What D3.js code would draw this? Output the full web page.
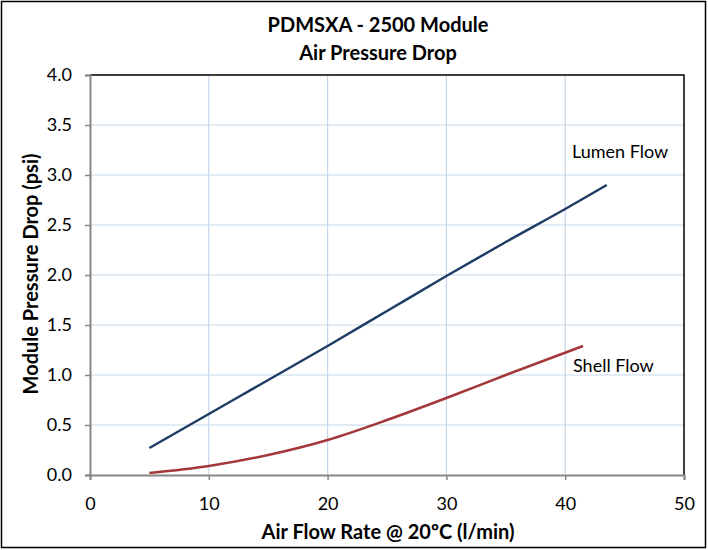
<!DOCTYPE html>
<html><head><meta charset="utf-8">
<script src="https://cdn.jsdelivr.net/npm/d3@7"></script>
<style>body{margin:0;background:#fff}svg{display:block}text{font-family:Lato,"Open Sans",sans-serif}</style>
</head><body>
<script>
const xTicks = [0,10,20,30,40,50];
const yTicks = [0,0.5,1.0,1.5,2.0,2.5,3.0,3.5,4.0];
const lumenX = [5,10,15,20,25,30,35,40,43.5];
const lumenY = [0.27,0.61,0.95,1.29,1.64,1.99,2.33,2.66,2.9];
const shellX = [5,10,15,20,25,30,35,41.5];
const shellY = [0.02,0.09,0.2,0.35,0.55,0.77,1.0,1.29];
const titleLines = ["PDMSXA - 2500 Module","Air Pressure Drop"];
const xTitle = "Air Flow Rate @ 20ºC (l/min)";
const yTitle = "Module Pressure Drop (psi)";
const seriesNames = ["Lumen Flow","Shell Flow"];

const W=708,H=550;
const m={l:90,r:24,t:75,b:75};
const svg=d3.select("body").append("svg").attr("width",W).attr("height",H);
svg.append("rect").attr("x",1.5).attr("y",1.5).attr("width",W-4).attr("height",H-4).attr("fill","#fff").attr("stroke","#000").attr("stroke-width",1.5);

const x=d3.scaleLinear().domain([0,50]).range([m.l,W-m.r]);
const y=d3.scaleLinear().domain([0,4]).range([H-m.b,m.t]);

const g=svg.append("g");
g.selectAll(".vg").data(xTicks.slice(1,-1)).join("line").attr("x1",d=>x(d)).attr("x2",d=>x(d)).attr("y1",y(0)).attr("y2",y(4)).attr("stroke","#c5d5ea").attr("stroke-width",1.2);
g.selectAll(".hg").data(yTicks.slice(1,-1)).join("line").attr("x1",x(0)).attr("x2",x(50)).attr("y1",d=>y(d)).attr("y2",d=>y(d)).attr("stroke","#c5d5ea").attr("stroke-width",1.2);
g.append("path").attr("d",`M${x(0)},${y(4)}H${x(50)}V${y(0)}`).attr("fill","none").attr("stroke","#000").attr("stroke-width",1.5);

const xa=svg.append("g").attr("transform",`translate(0,${y(0)})`).call(d3.axisBottom(x).tickValues(xTicks).tickSize(5).tickPadding(17).tickFormat(d3.format("d")));
const ya=svg.append("g").attr("transform",`translate(${x(0)},0)`).call(d3.axisLeft(y).tickValues(yTicks).tickSize(5).tickPadding(13).tickFormat(d3.format(".1f")));
[xa,ya].forEach(a=>{a.select(".domain").attr("stroke","#868686").attr("stroke-width",2);a.selectAll(".tick line").attr("stroke","#868686").attr("stroke-width",1.5);a.selectAll("text").attr("font-size",18).attr("fill","#000").attr("font-family","Lato,sans-serif");});

const line=d3.line().x(d=>x(d[0])).y(d=>y(d[1])).curve(d3.curveMonotoneX);
svg.append("path").datum(lumenX.map((v,i)=>[v,lumenY[i]])).attr("d",line).attr("fill","none").attr("stroke","#1f3d66").attr("stroke-width",2.5);
svg.append("path").datum(shellX.map((v,i)=>[v,shellY[i]])).attr("d",line).attr("fill","none").attr("stroke","#a3373a").attr("stroke-width",2.5);

svg.append("text").attr("x",572).attr("y",158).attr("font-size",18).text(seriesNames[0]);
svg.append("text").attr("x",573).attr("y",372).attr("font-size",18).text(seriesNames[1]);

svg.selectAll(".title").data(titleLines).join("text").attr("x",378).attr("y",(d,i)=>32+i*28).attr("text-anchor","middle").attr("font-size",20).attr("font-weight","bold").text(d=>d);
svg.append("text").attr("x",388).attr("y",539).attr("text-anchor","middle").attr("font-size",20).attr("font-weight","bold").text(xTitle);
svg.append("text").attr("transform",`translate(38,274) rotate(-90)`).attr("text-anchor","middle").attr("font-size",20).attr("font-weight","bold").text(yTitle);
</script>
</body></html>
